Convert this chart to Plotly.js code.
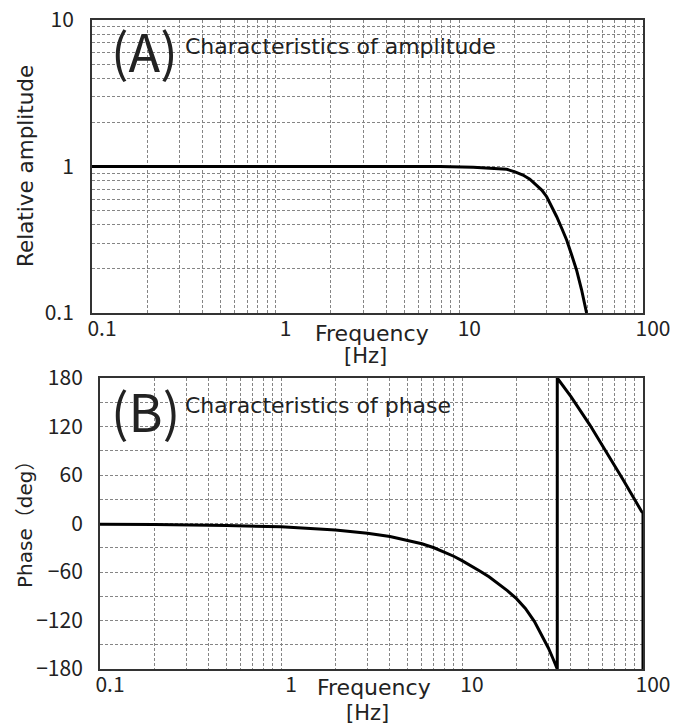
<!DOCTYPE html>
<html>
<head>
<meta charset="utf-8">
<script src="https://cdn.plot.ly/plotly-3.0.1.min.js"></script>
<style>
  html, body { margin: 0; padding: 0; background: #fff; }
  #chart { width: 678px; height: 727px; }
</style>
</head>
<body>
<div id="chart"></div>
<script>
// ---- data ----
const ampFreq = [0.1, 0.3, 1, 3, 7.84, 11.9, 14.7, 18.1, 20.1, 22.2, 24.2, 26.4, 28.1, 29.9, 31.8, 33.9, 36.1, 38.4, 40.9, 43.5, 46.3, 49.3];
const ampValue = [1, 1, 1, 1, 1, 0.987, 0.977, 0.957, 0.92, 0.875, 0.82, 0.748, 0.69, 0.622, 0.537, 0.454, 0.379, 0.315, 0.249, 0.196, 0.144, 0.1];

const phaseFreq = [0.1, 0.2, 0.5, 1, 2, 3, 4, 5, 6, 7, 8, 9, 10, 11.2, 12.6, 14.1, 15.8, 17.8, 20, 22.4, 25.1, 28.2, 30, 31.8, 33.6,
                   33.6, 40, 50.9, 63, 77.8, 98.4, 100, 100];
const phaseValue = [-1, -1.2, -2.5, -4, -8, -12, -16, -20.5, -25, -30, -35.5, -40.5, -46, -52, -59, -66, -74, -83, -93, -105, -121, -142, -154, -167, -180,
                    180, 157, 121.8, 88, 53.8, 14.6, 13, -180];

const freqTickVals = [0.1, 1, 10, 100];
const freqTickText = ['0.1', '1', '10', '100'];
const ampTickVals = [0.1, 1, 10];
const ampTickText = ['0.1', '1', '10'];
const phaseTickVals = [-180, -120, -60, 0, 60, 120, 180];

const panelALabel = '(A)';
const panelAText = 'Characteristics of amplitude';
const panelBLabel = '(B)';
const panelBText = 'Characteristics of phase';
const xTitleLine1 = 'Frequency';
const xTitleLine2 = '[Hz]';
const ampTitle = 'Relative amplitude';
const phaseTitle = 'Phase（deg）';

// ---- styling / layout helpers ----
const W = 678, H = 727;
const px = v => v / W;           // pixel x -> paper
const py = v => 1 - v / H;       // pixel y -> paper
const TICKFONT = '"Noto Sans CJK JP", "Noto Sans", sans-serif';
const TEXTFONT = '"DejaVu Sans", "Noto Sans CJK JP", sans-serif';
const TXT = '#222';

function minorLog(decades) {
  const out = [];
  decades.forEach(d => { for (let k = 2; k <= 9; k++) out.push(+(k * d).toPrecision(3)); });
  return out;
}
const gridStyle = { gridcolor: '#858585', gridwidth: 1, griddash: '3px,2px' };

const xCommon = (domain, anchor) => Object.assign({
  type: 'log', range: [-1, 2], domain: domain, anchor: anchor,
  tickmode: 'array', tickvals: freqTickVals, ticktext: freqTickText,
  showgrid: true, showline: true, mirror: true, linecolor: '#333', linewidth: 2,
  ticks: '', ticklabelstandoff: -4, ticklabelshift: 10,
  tickfont: { family: TICKFONT, size: 21, color: TXT },
  zeroline: false, automargin: false, fixedrange: true,
  minor: Object.assign({ tickmode: 'array', tickvals: minorLog([0.1, 1, 10]), showgrid: true, ticks: '' }, gridStyle)
}, gridStyle);

const yTick = { family: TICKFONT, size: 21, color: TXT };

const layout = {
  width: W, height: H,
  margin: { l: 0, r: 0, t: 0, b: 0 },
  paper_bgcolor: '#fff', plot_bgcolor: '#fff',
  showlegend: false,
  font: { family: TEXTFONT, color: TXT },
  xaxis: xCommon([px(92), px(643)], 'y'),
  yaxis: Object.assign({
    type: 'log', range: [-1, 1], domain: [py(313), py(20)], anchor: 'x',
    tickmode: 'array', tickvals: ampTickVals, ticktext: ampTickText,
    showgrid: true, showline: true, mirror: true, linecolor: '#333', linewidth: 2,
    ticks: '', ticklabelstandoff: 12, tickfont: yTick,
    zeroline: false, automargin: false, fixedrange: true,
    minor: Object.assign({ tickmode: 'array', tickvals: minorLog([0.1, 1]), showgrid: true, ticks: '' }, gridStyle)
  }, gridStyle),
  xaxis2: xCommon([px(100), px(643)], 'y2'),
  yaxis2: Object.assign({
    type: 'linear', range: [-180, 180], domain: [py(669), py(378)], anchor: 'x2',
    tickmode: 'array', tickvals: phaseTickVals,
    showgrid: true, showline: true, mirror: true, linecolor: '#333', linewidth: 2,
    ticks: '', ticklabelstandoff: 11, tickfont: yTick,
    zeroline: false, automargin: false, fixedrange: true,
    minor: Object.assign({ tick0: 0, dtick: 30, showgrid: true, ticks: '' }, gridStyle)
  }, gridStyle),
  shapes: [
    { type: 'rect', xref: 'paper', yref: 'paper', layer: 'between',
      x0: px(108), x1: px(502), y0: py(80), y1: py(28),
      fillcolor: '#fff', line: { width: 0 } },
    { type: 'rect', xref: 'paper', yref: 'paper', layer: 'between',
      x0: px(110), x1: px(462), y0: py(437), y1: py(390),
      fillcolor: '#fff', line: { width: 0 } }
  ],
  annotations: [
    { text: panelALabel, xref: 'paper', yref: 'paper', x: px(109), y: py(50), xanchor: 'left', yanchor: 'middle',
      showarrow: false, font: { family: TICKFONT, size: 52, color: TXT } },
    { text: panelAText, xref: 'paper', yref: 'paper', x: px(183), y: py(47), xanchor: 'left', yanchor: 'middle',
      showarrow: false, font: { family: TEXTFONT, size: 22, color: TXT } },
    { text: panelBLabel, xref: 'paper', yref: 'paper', x: px(109), y: py(409), xanchor: 'left', yanchor: 'middle',
      showarrow: false, font: { family: TICKFONT, size: 52, color: TXT } },
    { text: panelBText, xref: 'paper', yref: 'paper', x: px(183), y: py(405), xanchor: 'left', yanchor: 'middle',
      showarrow: false, font: { family: TEXTFONT, size: 22, color: TXT } },
    { text: xTitleLine1, xref: 'paper', yref: 'paper', x: px(372), y: py(333), xanchor: 'center', yanchor: 'middle',
      showarrow: false, font: { family: TEXTFONT, size: 22, color: TXT } },
    { text: xTitleLine2, xref: 'paper', yref: 'paper', x: px(366), y: py(356), xanchor: 'center', yanchor: 'middle',
      showarrow: false, font: { family: TEXTFONT, size: 21, color: TXT } },
    { text: xTitleLine1, xref: 'paper', yref: 'paper', x: px(374), y: py(687), xanchor: 'center', yanchor: 'middle',
      showarrow: false, font: { family: TEXTFONT, size: 22, color: TXT } },
    { text: xTitleLine2, xref: 'paper', yref: 'paper', x: px(367), y: py(713), xanchor: 'center', yanchor: 'middle',
      showarrow: false, font: { family: TEXTFONT, size: 21, color: TXT } },
    { text: ampTitle, xref: 'paper', yref: 'paper', x: px(26), y: py(166), xanchor: 'center', yanchor: 'middle', textangle: -90,
      showarrow: false, font: { family: TEXTFONT, size: 21.5, color: TXT } },
    { text: phaseTitle, xref: 'paper', yref: 'paper', x: px(25), y: py(520), xanchor: 'center', yanchor: 'middle', textangle: -90,
      showarrow: false, font: { family: TEXTFONT, size: 20, color: TXT } }
  ]
};

const traces = [
  { x: ampFreq, y: ampValue, xaxis: 'x', yaxis: 'y', type: 'scatter', mode: 'lines',
    line: { color: '#000', width: 3 }, hoverinfo: 'skip' },
  { x: phaseFreq, y: phaseValue, xaxis: 'x2', yaxis: 'y2', type: 'scatter', mode: 'lines',
    line: { color: '#000', width: 3 }, hoverinfo: 'skip' }
];

Plotly.newPlot('chart', traces, layout, { displayModeBar: false, staticPlot: true });
</script>
</body>
</html>
